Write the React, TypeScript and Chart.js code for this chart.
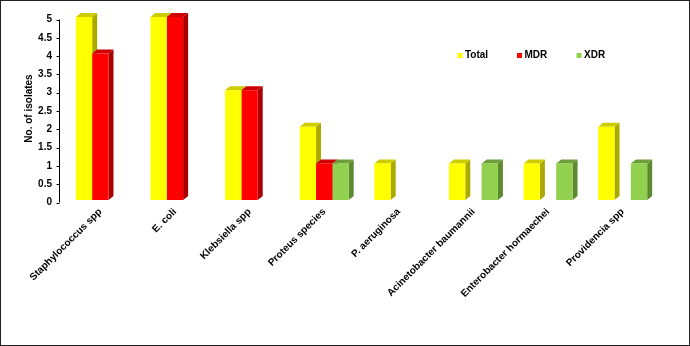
import React, { useEffect, useRef } from 'react';
import { Chart, registerables } from 'chart.js';

Chart.register(...registerables);

const categories = [
  'Staphylococcus spp',
  'E. coli',
  'Klebsiella spp',
  'Proteus species',
  'P. aeruginosa',
  'Acinetobacter baumannii',
  'Enterobacter hormaechei',
  'Providencia spp',
];
const seriesNames = ['Total', 'MDR', 'XDR'];
const totalValues = [5, 5, 3, 2, 1, 1, 1, 2];
const mdrValues = [4, 5, 3, 1, 0, 0, 0, 0];
const xdrValues = [0, 0, 0, 1, 0, 1, 1, 1];
const yMin = 0;
const yMax = 5;
const yStep = 0.5;
const yTitle = 'No. of isolates';

const FRONT = ['#FFFF00', '#FF0000', '#92D050'];
const SIDE = ['#AAAA00', '#A80000', '#5E8A2E'];
const TOP = ['#CCCC00', '#CC0000', '#6E9E3A'];
const FONT = 'Arial, "Liberation Sans", sans-serif';

const DX = 5;
const DY = 4;

const bar3d = {
  id: 'bar3d',
  beforeDatasetsDraw(chart: any) {
    const ctx = chart.ctx;
    const n = chart.data.labels.length;
    ctx.save();
    for (let i = 0; i < n; i++) {
      for (let d = 0; d < chart.data.datasets.length; d++) {
        const v = chart.data.datasets[d].data[i];
        if (!v) continue;
        const el = chart.getDatasetMeta(d).data[i];
        const { x, y, base, width } = el.getProps(['x', 'y', 'base', 'width'], true);
        const l = x - width / 2;
        const r = x + width / 2;
        ctx.fillStyle = SIDE[d];
        ctx.beginPath();
        ctx.moveTo(r, y);
        ctx.lineTo(r + DX, y - DY);
        ctx.lineTo(r + DX, base - DY);
        ctx.lineTo(r, base);
        ctx.closePath();
        ctx.fill();
        ctx.fillStyle = TOP[d];
        ctx.beginPath();
        ctx.moveTo(l, y);
        ctx.lineTo(l + DX, y - DY);
        ctx.lineTo(r + DX, y - DY);
        ctx.lineTo(r, y);
        ctx.closePath();
        ctx.fill();
      }
    }
    ctx.restore();
  },
};

const decor = {
  id: 'decor',
  afterDraw(chart: any) {
    const ctx = chart.ctx;
    const ys = chart.scales.y;
    const off = 2.5;
    const axX = 59.5;
    ctx.save();
    // y axis line with outside tick marks
    ctx.strokeStyle = '#000';
    ctx.lineWidth = 1;
    ctx.beginPath();
    ctx.moveTo(axX, ys.getPixelForValue(yMax) + off);
    ctx.lineTo(axX, ys.getPixelForValue(yMin) + off);
    for (let v = yMin; v <= yMax + 1e-9; v += yStep) {
      const py = Math.round(ys.getPixelForValue(v) + off) + 0.5;
      ctx.moveTo(axX - 3, py);
      ctx.lineTo(axX, py);
    }
    ctx.stroke();

    // legend
    const lx = [457.5, 517, 576.5];
    const ly = 55.5;
    ctx.font = `bold 10px ${FONT}`;
    ctx.textBaseline = 'middle';
    ctx.textAlign = 'left';
    chart.data.datasets.forEach((ds: any, d: number) => {
      ctx.fillStyle = FRONT[d];
      ctx.fillRect(lx[d], ly - 2.5, 5, 5);
      ctx.fillStyle = '#000';
      ctx.fillText(ds.label, lx[d] + 7.5, ly);
    });

    // outer border
    ctx.strokeStyle = '#222';
    ctx.lineWidth = 2;
    ctx.strokeRect(0, 0, chart.width, chart.height);
    ctx.restore();
  },
};

export default function App() {
  const ref = useRef<HTMLCanvasElement | null>(null);

  useEffect(() => {
    document.body.style.margin = '0';
    const canvas = ref.current;
    if (!canvas) return;
    const seriesValues = [totalValues, mdrValues, xdrValues];
    const chart = new Chart(canvas, {
      type: 'bar',
      data: {
        labels: categories,
        datasets: seriesNames.map((name, d) => ({
          label: name,
          data: seriesValues[d],
          backgroundColor: FRONT[d],
          borderWidth: 0,
          barPercentage: 1,
          categoryPercentage: 0.656,
        })),
      },
      options: {
        responsive: false,
        animation: false,
        devicePixelRatio: 1,
        layout: { padding: { top: 15, right: 30, bottom: 0, left: 0 } },
        plugins: {
          legend: { display: false },
          tooltip: { enabled: false },
        },
        scales: {
          x: {
            grid: { display: false, drawTicks: false },
            border: { display: false },
            ticks: {
              autoSkip: false,
              maxRotation: 45,
              minRotation: 45,
              padding: 6,
              color: '#000',
              font: { family: FONT, size: 10, weight: 'bold' },
            },
            afterFit: (s: any) => {
              s.height = 146;
            },
          },
          y: {
            min: yMin,
            max: yMax,
            grid: { display: false, drawTicks: false },
            border: { display: false },
            ticks: {
              stepSize: yStep,
              padding: 11,
              labelOffset: 2.5,
              color: '#000',
              font: { family: FONT, size: 10, weight: 'bold' },
              callback: (v: any) => String(v),
            },
            title: {
              display: true,
              text: yTitle,
              color: '#000',
              font: { family: FONT, size: 10, weight: 'bold' },
              padding: { top: 23, bottom: 0 },
            },
            afterFit: (s: any) => {
              s.width = 63;
            },
          },
        },
      },
      plugins: [bar3d, decor],
    });
    return () => chart.destroy();
  }, []);

  return (
    <div style={{ width: 690, height: 346, background: '#fff' }}>
      <canvas ref={ref} width={690} height={346} style={{ display: 'block' }} />
    </div>
  );
}
